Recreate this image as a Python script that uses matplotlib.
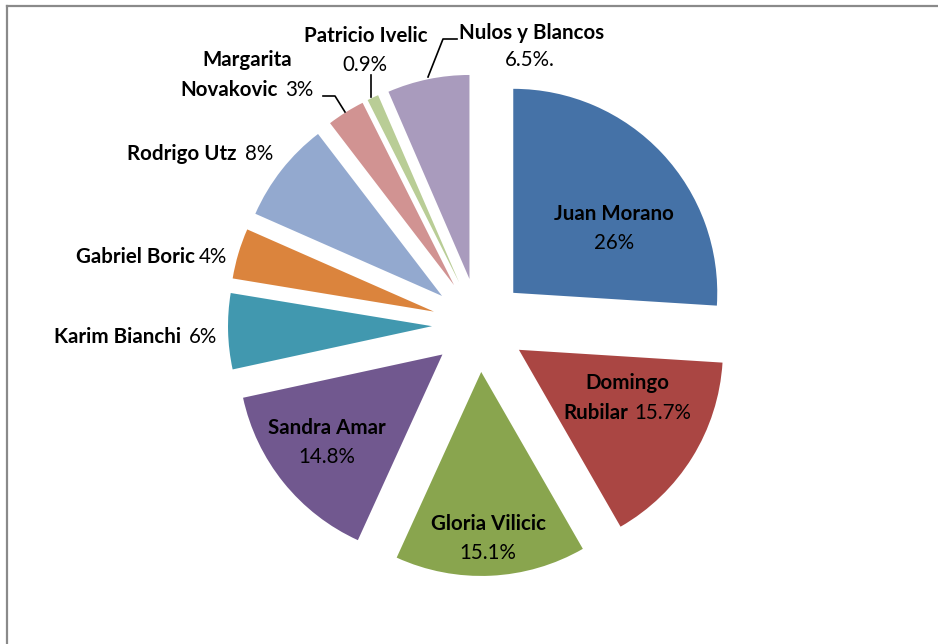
import matplotlib
matplotlib.use("Agg")
import matplotlib.pyplot as plt
from matplotlib.lines import Line2D

# ---- data ----
names = ["Juan Morano", "Domingo Rubilar", "Gloria Vilicic", "Sandra Amar",
         "Karim Bianchi", "Gabriel Boric", "Rodrigo Utz", "Margarita Novakovic",
         "Patricio Ivelic", "Nulos y Blancos"]
values = [26, 15.7, 15.1, 14.8, 6, 4, 8, 3, 0.9, 6.5]
pct_labels = ["26%", "15.7%", "15.1%", "14.8%", "6%", "4%", "8%", "3%", "0.9%", "6.5%."]
colors = ["#4572A7", "#AA4643", "#89A54E", "#71588F", "#4198AF",
          "#DB843D", "#93A9CF", "#D19392", "#B9CD96", "#A99BBD"]

W, H = 938, 644
fig = plt.figure(figsize=(W / 100, H / 100), dpi=100)
ax = fig.add_axes([0, 0, 1, 1])

cx, cy, R, EXPL = 479, H - 325, 204, 47
ax.pie(values, colors=colors, startangle=90, counterclock=False,
       radius=R, center=(cx, cy), explode=[EXPL] * len(values),
       wedgeprops=dict(linewidth=0), frame=False)
ax.set_xlim(0, W)
ax.set_ylim(0, H)
ax.set_aspect("equal")
ax.axis("off")

FONT = ["Lato", "DejaVu Sans"]
FS = 14.8
renderer = fig.canvas.get_renderer()


def rich_line(x, y, segs, ha="center", gap=6):
    texts = [ax.text(0, H - y, s, fontweight=w, fontsize=FS, family=FONT,
                     ha="left", va="center", color="black") for s, w in segs]
    widths = [t.get_window_extent(renderer).width for t in texts]
    total = sum(widths) + gap * (len(texts) - 1)
    if ha == "center":
        start = x - total / 2
    elif ha == "right":
        start = x - total
    else:
        start = x
    for t, w in zip(texts, widths):
        t.set_x(start)
        start += w + gap


B, N = "bold", "normal"
# inside labels (two lines)
rich_line(614, 214, [(names[0], B)])
rich_line(614, 243, [(pct_labels[0], N)])
rich_line(627, 383, [("Domingo", B)])
rich_line(627, 413, [("Rubilar", B), (pct_labels[1], N)])
rich_line(488, 524, [(names[2], B)])
rich_line(488, 553, [(pct_labels[2], N)])
rich_line(327, 428, [(names[3], B)])
rich_line(327, 457, [(pct_labels[3], N)])
# outside labels
rich_line(217, 337, [(names[4], B), (pct_labels[4], N)], ha="right", gap=8)
rich_line(227, 257, [(names[5], B), (pct_labels[5], N)], ha="right", gap=4)
rich_line(273, 154, [(names[6], B), (pct_labels[6], N)], ha="right", gap=8)
rich_line(247, 60, [("Margarita", B)])
rich_line(247, 90, [("Novakovic", B), (pct_labels[7], N)], gap=7)
rich_line(366, 36, [(names[8], B)])
rich_line(365, 65, [(pct_labels[8], N)])
rich_line(532, 33, [(names[9], B)])
rich_line(530, 60, [(pct_labels[9], N)])

# leader lines
for xs, ys in [([323, 335, 345], [96, 96, 112]),
               ([371, 371], [75, 97]),
               ([428, 443, 457], [77, 39, 39])]:
    ax.plot(xs, [H - v for v in ys], color="black", lw=1.2)

# frame
fig.add_artist(Line2D([7 / W, 7 / W], [0, 1 - 6 / H], transform=fig.transFigure,
                      color="#8a8a8a", lw=1.6))
fig.add_artist(Line2D([7 / W, 1], [1 - 6 / H, 1 - 6 / H], transform=fig.transFigure,
                      color="#8a8a8a", lw=1.6))

fig.savefig("out.png", dpi=100)
